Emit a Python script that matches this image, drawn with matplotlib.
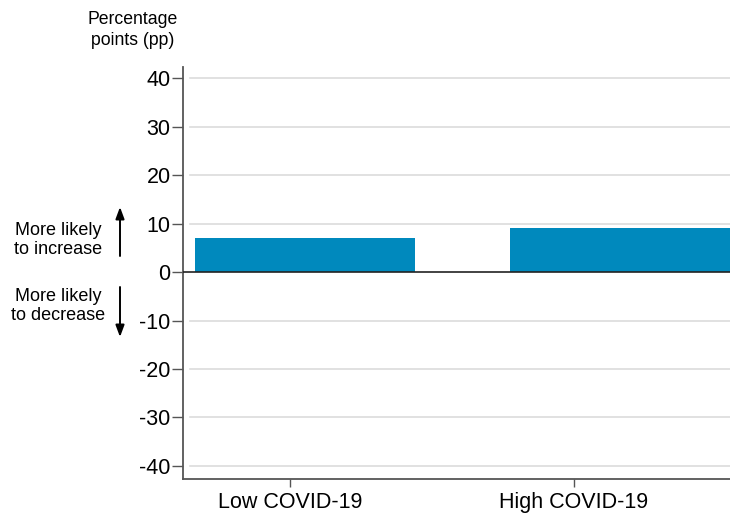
import matplotlib.pyplot as plt
import numpy as np
from matplotlib.patches import FancyArrowPatch

plt.rcParams['font.family'] = ['Liberation Sans', 'DejaVu Sans']

categories = ['Low COVID-19', 'High COVID-19']
values = [7.0, 9.1]
yticks = [40, 30, 20, 10, 0, -10, -20, -30, -40]

bar_color = '#0089bd'

fig = plt.figure(figsize=(7.30, 5.16), dpi=100)
ax = fig.add_axes([183/730, 37/516, 1 - 183/730, (479 - 67)/516])

pos = np.arange(len(categories))
# bars sit a little right of their ticks, as in the original
offsets = np.array([0.053, 0.163])
ax.bar(pos + offsets, values, width=0.775, color=bar_color, zorder=3)

ax.set_xlim(-0.377, 1.55)
ax.set_ylim(-42.7, 42.3)

# gridlines, slightly inset from the axis
for t in yticks:
    if t != 0:
        ax.plot([-0.352, 1.56], [t, t], color='#dcdcdc', lw=1.2, zorder=1,
                clip_on=False)
ax.axhline(0, color='#222222', lw=1.2, zorder=4)

ax.set_yticks(yticks)
ax.set_yticklabels([str(t) for t in yticks])
ax.set_xticks(pos)
ax.set_xticklabels(categories)
ax.tick_params(axis='y', labelsize=15.5, length=8, width=1, color='#555555', pad=1)
ax.tick_params(axis='x', labelsize=15.5, length=6, width=1, color='#555555', pad=3.5)

for s in ['top', 'right']:
    ax.spines[s].set_visible(False)
for s in ['left', 'bottom']:
    ax.spines[s].set_color('#555555')
    ax.spines[s].set_linewidth(1.3)

fig.text(133/730, 1 - 30/516, 'Percentage\npoints (pp)', ha='center', va='center',
         fontsize=12.7, linespacing=1.25)
fig.text(58/730, 1 - 240/516, 'More likely\nto increase', ha='center', va='center',
         fontsize=13, linespacing=1.2)
fig.text(58/730, 1 - 306/516, 'More likely\nto decrease', ha='center', va='center',
         fontsize=13, linespacing=1.2)

arrow_style = '-|>,head_length=7,head_width=2.6'
fig.patches.append(FancyArrowPatch(
    (120/730, 1 - 256/516), (120/730, 1 - 207/516), transform=fig.transFigure,
    arrowstyle=arrow_style, color='black', lw=1.4, shrinkA=0, shrinkB=0))
fig.patches.append(FancyArrowPatch(
    (120/730, 1 - 287/516), (120/730, 1 - 337/516), transform=fig.transFigure,
    arrowstyle=arrow_style, color='black', lw=1.4, shrinkA=0, shrinkB=0))

fig.savefig('out.png', dpi=100)
